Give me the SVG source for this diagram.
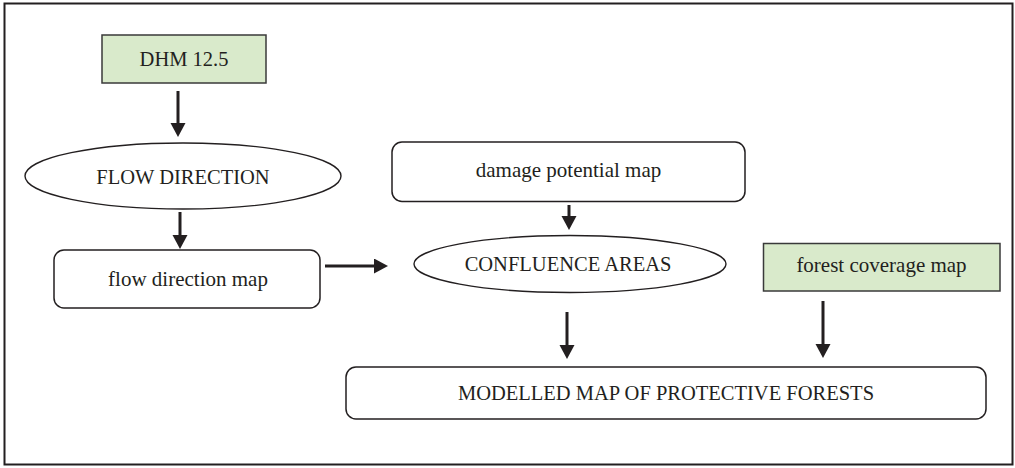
<svg xmlns="http://www.w3.org/2000/svg" width="1015" height="468" viewBox="0 0 1015 468">
<style>
.frame{fill:#ffffff;stroke:#231f20;stroke-width:2}
.box{fill:#ffffff;stroke:#231f20;stroke-width:1.5}
.green{fill:#d9eacb;stroke:#3a3a3a;stroke-width:1.5}
.ell{fill:#ffffff;stroke:#231f20;stroke-width:1.4}
.t{font-family:"Liberation Serif","Times New Roman",serif;fill:#231f20;text-anchor:middle}
.lc{font-size:21px}
.uc{font-size:20.5px}
.arr{stroke:#231f20;stroke-width:3;fill:none;marker-end:url(#ah)}
</style>
<defs>
<marker id="ah" markerUnits="userSpaceOnUse" markerWidth="16" markerHeight="16" refX="2" refY="7.5" orient="auto">
<path d="M0,0 L14,7.5 L0,15 z" fill="#231f20"/>
</marker>
</defs>
<rect class="frame" x="4.5" y="3.5" width="1008" height="461"/>
<g id="connectors">
<line class="arr" x1="178" y1="91" x2="178" y2="125"/>
<line class="arr" x1="180" y1="212" x2="180" y2="237"/>
<line class="arr" x1="325" y1="266" x2="376" y2="266"/>
<line class="arr" x1="569" y1="205" x2="569" y2="218"/>
<line class="arr" x1="567" y1="312" x2="567" y2="347"/>
<line class="arr" x1="823" y1="301" x2="823" y2="346"/>
</g>
<g id="dhm">
<rect class="green" x="102" y="35" width="164" height="48"/>
<text class="t uc" x="184" y="65.5">DHM 12.5</text>
</g>
<g id="flow-direction">
<ellipse class="ell" cx="183" cy="176" rx="158" ry="33"/>
<text class="t uc" x="183" y="183.5">FLOW DIRECTION</text>
</g>
<g id="flow-direction-map">
<rect class="box" x="54" y="250" width="266" height="58" rx="10" ry="10"/>
<text class="t lc" x="188" y="285.5">flow direction map</text>
</g>
<g id="damage-potential-map">
<rect class="box" x="392" y="142" width="353" height="59.5" rx="10" ry="10"/>
<text class="t lc" x="568.5" y="177">damage potential map</text>
</g>
<g id="confluence-areas">
<ellipse class="ell" cx="570" cy="264" rx="156" ry="28.5"/>
<text class="t uc" x="568" y="271">CONFLUENCE AREAS</text>
</g>
<g id="forest-coverage-map">
<rect class="green" x="763.5" y="243.5" width="236.5" height="47.5"/>
<text class="t lc" x="881.5" y="272">forest coverage map</text>
</g>
<g id="modelled-map">
<rect class="box" x="346" y="367" width="640" height="52" rx="10" ry="10"/>
<text class="t uc" x="666" y="400">MODELLED MAP OF PROTECTIVE FORESTS</text>
</g>
</svg>
